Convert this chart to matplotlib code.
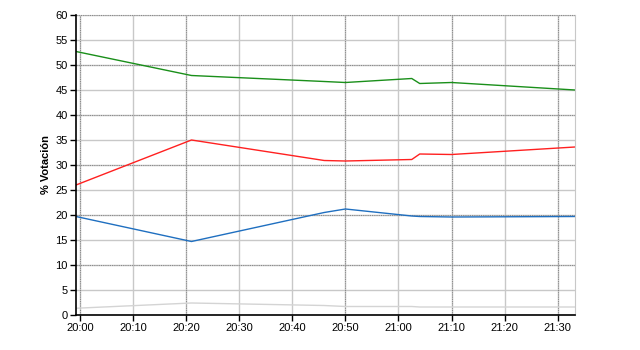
import matplotlib
matplotlib.use('Agg')
import matplotlib.pyplot as plt
import matplotlib.dates as mdates
import pandas as pd

plt.rcParams['font.family'] = ['Liberation Sans', 'DejaVu Sans']

times = ['19:59:15', '20:21:00', '20:46:00', '20:50:00', '21:02:30',
         '21:04:00', '21:10:00', '21:33:15']
green = [52.7, 47.9, 46.7, 46.5, 47.3, 46.3, 46.5, 45.0]
red = [26.0, 35.0, 30.9, 30.8, 31.1, 32.2, 32.1, 33.6]
blue = [19.7, 14.7, 20.5, 21.2, 19.8, 19.7, 19.6, 19.7]
gray = [1.35, 2.4, 1.9, 1.7, 1.7, 1.6, 1.6, 1.6]

tick_times = ['20:00', '20:10', '20:20', '20:30', '20:40', '20:50',
              '21:00', '21:10', '21:20', '21:30']
dotted_times = ['20:00', '20:20', '20:50', '21:10', '21:30']

day = '2000-01-01 '
t = pd.to_datetime([day + s for s in times])
ticks = pd.to_datetime([day + s for s in tick_times])
dotted = pd.to_datetime([day + s for s in dotted_times])

fig = plt.figure(figsize=(6.4, 3.5), dpi=100)
ax = fig.add_axes([76 / 640, 35 / 350, 499 / 640, 300 / 350])

ax.plot(t, gray, color='#d4d4d4', lw=1)
ax.plot(t, blue, color='#1f6fc0', lw=1)
ax.plot(t, red, color='#ff2020', lw=1)
ax.plot(t, green, color='#1a8f1a', lw=1)

ax.set_xlim(t[0], t[-1])
ax.set_ylim(0, 60)

ax.set_yticks(range(0, 61, 5))
ax.set_xticks(ticks)
ax.xaxis.set_major_formatter(mdates.DateFormatter('%H:%M'))

ax.set_axisbelow(True)
ax.grid(True, color='#c8c8c8', lw=1, ls='-', zorder=0)
for y in range(10, 61, 10):
    ax.axhline(y, color='white', lw=1, zorder=0.5)
    ax.axhline(y, color='#8a8a8a', lw=0.8, ls=(0, (1, 1)), zorder=0.6,
               clip_on=False)
for x in dotted:
    ax.axvline(x, color='white', lw=1, zorder=0.5)
    ax.axvline(x, color='#8a8a8a', lw=0.8, ls=(0, (1, 1)), zorder=0.6)

ax.tick_params(length=4, width=1, labelsize=8, pad=2, colors='black')

ax.spines['top'].set_visible(False)
ax.spines['right'].set_color('#c8c8c8')
ax.spines['left'].set_linewidth(1.2)
ax.spines['bottom'].set_linewidth(1.2)

ax.set_ylabel('% Votación', fontsize=8, fontweight='bold', labelpad=3)

fig.savefig('out.png', dpi=100)
